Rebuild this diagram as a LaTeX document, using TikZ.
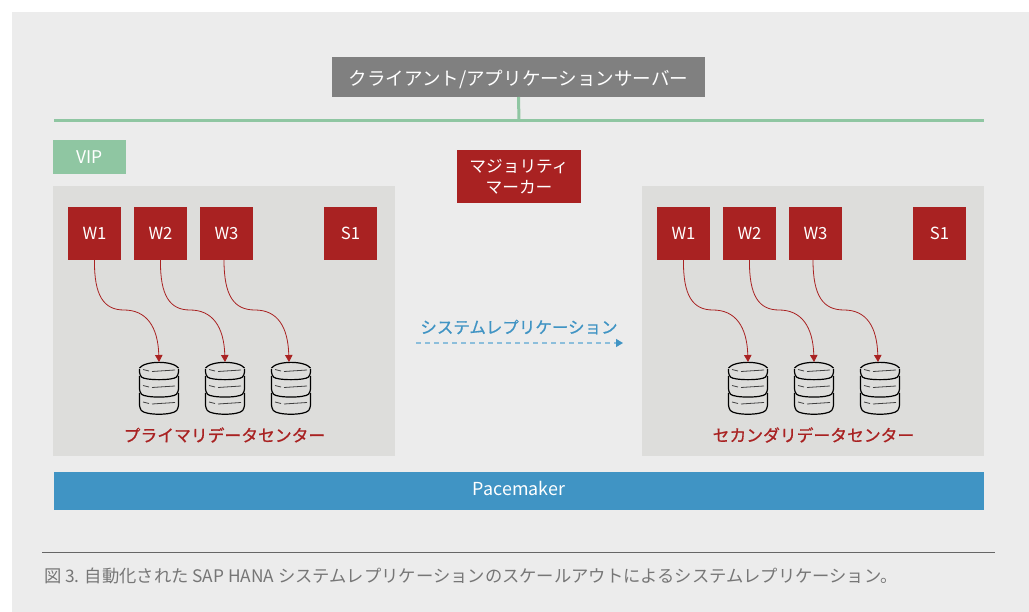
\documentclass[tikz,border=0pt]{standalone}
\usepackage{fontspec}
\setmainfont{Noto Sans CJK JP}
\newfontfamily\midfont[FakeBold=0.8]{Noto Sans CJK JP}
\usetikzlibrary{arrows.meta}
\definecolor{pagegray}{HTML}{ECECEC}
\definecolor{panelgray}{HTML}{DDDDDB}
\definecolor{clientgray}{HTML}{808080}
\definecolor{busgreen}{HTML}{8FC6A2}
\definecolor{nodered}{HTML}{A92222}
\definecolor{paceblue}{HTML}{4094C4}
\definecolor{repllight}{HTML}{8CBEDB}
\definecolor{captiongray}{HTML}{767676}
\definecolor{rulegray}{HTML}{666666}
\tikzset{
  panel/.style={fill=panelgray,minimum width=342pt,minimum height=270pt,inner sep=0pt,outer sep=0pt},
  redbox/.style={fill=nodered,text=white,font=\fontsize{16.7}{21}\selectfont,align=center,inner sep=0pt,outer sep=0pt},
  worker/.style={redbox,minimum width=53pt,minimum height=53pt},
  dbnode/.style={minimum width=40pt,minimum height=52pt,inner sep=0pt,outer sep=0pt},
  dcname/.style={text=nodered,font=\fontsize{16.8}{20}\midfont\selectfont,inner sep=0pt},
  writeline/.style={draw=nodered,line width=0.8pt,-{Triangle[length=7pt,width=7.5pt]}},
  disk/.style={draw=black,line width=1.2pt},
  shine/.style={draw=black!75,line width=0.8pt}
}
% one stack of three disks, centred on a named node
\newcommand{\dbstack}[3]{%
\node[dbnode] (#1) at (#2,#3) {};
\draw[disk,rounded corners=3pt] (#2-19.5,#3-19) -- (#2-19.5,#3-13) .. controls (#2-14,#3-7.5) and (#2+14,#3-7.5) .. (#2+19.5,#3-13) -- (#2+19.5,#3-19);
\draw[disk] (#2-19.5,#3-20) .. controls (#2-14,#3-27.5) and (#2+14,#3-27.5) .. (#2+19.5,#3-20);
\draw[disk,rounded corners=3pt] (#2-19.5,#3-12) -- (#2-19.5,#3+4) .. controls (#2-14,#3+10) and (#2+14,#3+10) .. (#2+19.5,#3+4) -- (#2+19.5,#3-12);
\draw[disk,rounded corners=3pt] (#2-19.5,#3+5) -- (#2-19.5,#3+20) .. controls (#2-14,#3+27.5) and (#2+14,#3+27.5) .. (#2+19.5,#3+20) -- (#2+19.5,#3+5);
\draw[shine] (#2-16,#3-18.5) -- (#2-10,#3-17);
\draw[shine] (#2-7,#3-16.5) -- (#2+16,#3-18);
\draw[shine] (#2-16,#3-2.5) -- (#2-10,#3-1);
\draw[shine] (#2-7,#3-0.5) -- (#2+16,#3-2);
\draw[shine] (#2-16,#3+14) -- (#2-10,#3+15.5);
\draw[shine] (#2-7,#3+16) -- (#2+16,#3+14.5);
}
\begin{document}
\begin{tikzpicture}[x=1pt,y=-1pt]
\useasboundingbox (0,0) rectangle (1029,612);
\fill[pagegray] (12,12) rectangle (1029,612);

\node[fill=clientgray,text=white,font=\fontsize{18.55}{22}\selectfont,minimum width=373pt,minimum height=40pt,inner sep=0pt,outer sep=0pt,text height=17pt,text depth=0pt] (client) at (518.5,77) {クライアント/アプリケーションサーバー};
\coordinate (busleft) at (54,121);
\coordinate (busright) at (984,121);
\coordinate (busjoin) at (519,121);
\draw[busgreen,line width=3pt] (busleft) -- (busright);
\draw[busgreen,line width=3pt] (client.south) -- (busjoin);

\node[fill=busgreen,text=white,font=\fontsize{17.5}{20}\selectfont,minimum width=73pt,minimum height=34pt,inner sep=0pt] (vip) at (89.5,157) {VIP};
\node[redbox,minimum width=124pt,minimum height=53pt] (majority) at (519,176.5) {マジョリティ\\マーカー};

% primary side
\node[panel] (primary) at (224,321) {};
\node[worker] (pw1) at (94.5,233.5) {W1};
\node[worker] (pw2) at (160.5,233.5) {W2};
\node[worker] (pw3) at (226.5,233.5) {W3};
\node[worker] (ps1) at (350.5,233.5) {S1};
\dbstack{pdb1}{159}{388}
\dbstack{pdb2}{225}{388}
\dbstack{pdb3}{291}{388}
\node[dcname] (pname) at (224.5,435) {プライマリデータセンター};
\coordinate (pm1) at (124,310);
\coordinate (pm2) at (190,310);
\coordinate (pm3) at (255,310);
\draw[writeline] (pw1.south) .. controls (94,296) and (104,310) .. (pm1) .. controls (146,310) and (158,326) .. (pdb1.north);
\draw[writeline] (pw2.south) .. controls (160,296) and (170,310) .. (pm2) .. controls (212,310) and (224,326) .. (pdb2.north);
\draw[writeline] (224,260) .. controls (224,296) and (234,310) .. (pm3) .. controls (277,310) and (288,326) .. (289,362);

% secondary side
\node[panel] (secondary) at (813,321) {};
\node[worker] (sw1) at (683.5,233.5) {W1};
\node[worker] (sw2) at (749.5,233.5) {W2};
\node[worker] (sw3) at (815.5,233.5) {W3};
\node[worker] (ss1) at (939.5,233.5) {S1};
\dbstack{sdb1}{748}{388}
\dbstack{sdb2}{814}{388}
\dbstack{sdb3}{880}{388}
\node[dcname] (sname) at (813.5,435) {セカンダリデータセンター};
\coordinate (sm1) at (713,310);
\coordinate (sm2) at (779,310);
\coordinate (sm3) at (844,310);
\draw[writeline] (sw1.south) .. controls (683,296) and (693,310) .. (sm1) .. controls (735,310) and (747,326) .. (sdb1.north);
\draw[writeline] (sw2.south) .. controls (749,296) and (759,310) .. (sm2) .. controls (801,310) and (813,326) .. (sdb2.north);
\draw[writeline] (813,260) .. controls (813,296) and (823,310) .. (sm3) .. controls (866,310) and (877,326) .. (878,362);

% replication
\node[text=paceblue,font=\fontsize{16.5}{20}\midfont\selectfont,inner sep=0pt] (repl) at (519,327) {システムレプリケーション};
\coordinate (replstart) at (416,343);
\coordinate (replend) at (623,343);
\draw[repllight,line width=1.2pt,dash pattern=on 5pt off 4pt,-{Triangle[length=7pt,width=8pt,color=paceblue]}] (replstart) -- (replend);

\node[fill=paceblue,text=white,font=\fontsize{17.9}{20}\selectfont,minimum width=930pt,minimum height=38pt,inner sep=0pt,text height=12pt,text depth=3.5pt] (pacemaker) at (519,491) {Pacemaker};

% caption
\coordinate (ruleleft) at (42,552.5);
\coordinate (ruleright) at (995,552.5);
\draw[rulegray,line width=1.2pt] (ruleleft) -- (ruleright);
\node[anchor=west,text=captiongray,font=\fontsize{17.3}{20}\selectfont,inner sep=0pt] (caption) at (44,576) {図 3. 自動化された SAP HANA システムレプリケーションのスケールアウトによるシステムレプリケーション。};
\end{tikzpicture}
\end{document}
